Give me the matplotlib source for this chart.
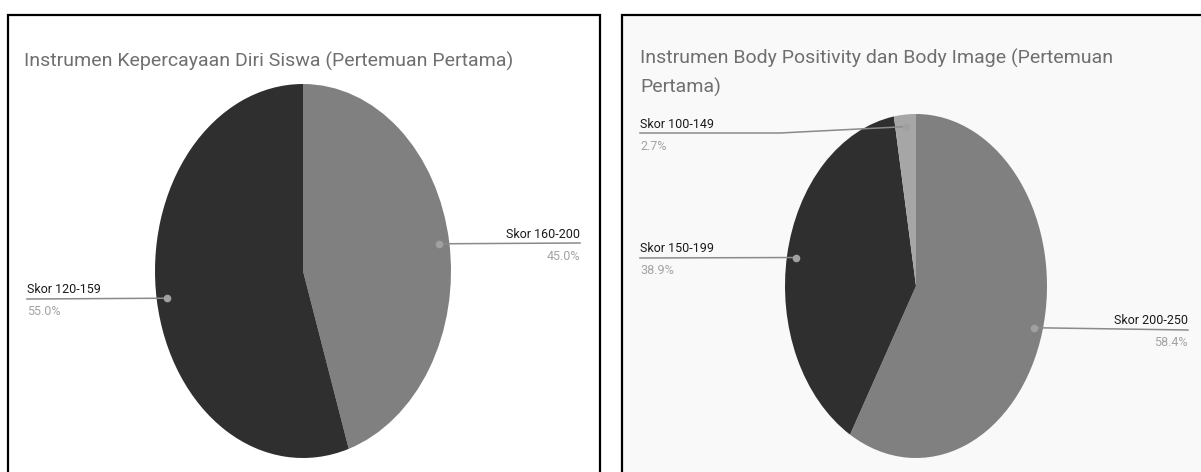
import numpy as np
import matplotlib
matplotlib.use('Agg')
from matplotlib import pyplot as plt
from matplotlib.patches import Rectangle
from matplotlib.lines import Line2D

# data
left_title = 'Instrumen Kepercayaan Diri Siswa (Pertemuan Pertama)'
left_labels = ['Skor 160-200', 'Skor 120-159']
left_values = [45.0, 55.0]

right_title = 'Instrumen Body Positivity dan Body Image (Pertemuan\nPertama)'
right_labels = ['Skor 200-250', 'Skor 150-199', 'Skor 100-149']
right_values = [58.4, 38.9, 2.7]

W, H = 1201, 472
plt.rcParams['font.family'] = ['Roboto', 'DejaVu Sans']

fig = plt.figure(figsize=(W / 100, H / 100), dpi=100)


def fx(px):
	return px / W


def fy(py):
	return 1 - py / H


def panel(x0, x1, y0, face):
	r = Rectangle((fx(x0), fy(H + 10)), fx(x1) - fx(x0), fy(y0) - fy(H + 10),
				  transform=fig.transFigure, facecolor=face, edgecolor='black',
				  linewidth=1.6, zorder=-5)
	fig.patches.append(r)


def pie_axes(cx, cy, rx, ry, values, colors):
	ax = fig.add_axes([fx(cx - rx), fy(cy + ry), (2 * rx) / W, (2 * ry) / H])
	ax.set_zorder(2)
	wedges, _ = ax.pie(values, colors=colors, startangle=90, counterclock=False,
					   wedgeprops=dict(linewidth=0))
	ax.set_aspect('auto')
	ax.set_xlim(-1, 1)
	ax.set_ylim(-1, 1)
	ax.axis('off')
	# anchor dots at mid angle of each wedge, returned in pixel coords
	dots = []
	for w in wedges:
		mid = np.deg2rad((w.theta1 + w.theta2) / 2)
		x = 0.93 * np.cos(mid)
		y = 0.93 * np.sin(mid)
		dots.append((cx + x * rx, cy - y * ry))
	return dots


def leader(points):
	xs = [fx(p[0]) for p in points]
	ys = [fy(p[1]) for p in points]
	fig.lines.append(Line2D(xs, ys, transform=fig.transFigure, color='#8a8a8a',
							linewidth=1.1, zorder=5))
	fig.lines.append(Line2D([xs[-1]], [ys[-1]], transform=fig.transFigure, marker='o',
							markersize=4.5, color='#a0a0a0', linestyle='none', zorder=6))


def label(x, y, name, pct, ha='left'):
	fig.text(fx(x), fy(y), name, ha=ha, va='baseline', fontsize=9, color='#1a1a1a')
	fig.text(fx(x), fy(y + 22), pct, ha=ha, va='baseline', fontsize=9, color='#a3a3a3')


dark = '#2f2f2f'
mid = '#808080'
light = '#a6a6a6'

# left panel
panel(8, 600, 15, 'white')
fig.text(fx(24), fy(67), left_title, fontsize=14, color='#6f6f6f', va='baseline')
dots = pie_axes(303, 271, 148, 187, left_values, [mid, dark])
label(580, 238, left_labels[0], '%.1f%%' % left_values[0], ha='right')
leader([(580, 243), dots[0]])
label(27, 293, left_labels[1], '%.1f%%' % left_values[1])
leader([(27, 299), dots[1]])

# right panel
panel(622, W + 10, 15, '#f9f9f9')
fig.text(fx(640), fy(93), right_title, fontsize=14, color='#6f6f6f', va='baseline',
		 linespacing=1.65)
dots = pie_axes(916, 286, 131, 172, right_values, [mid, dark, light])
label(1188, 324, right_labels[0], '%.1f%%' % right_values[0], ha='right')
leader([(1188, 330), dots[0]])
label(640, 252, right_labels[1], '%.1f%%' % right_values[1])
leader([(640, 258), dots[1]])
label(640, 128, right_labels[2], '%.1f%%' % right_values[2])
leader([(640, 133), (780, 133), dots[2]])

fig.savefig('out.png', dpi=100)
